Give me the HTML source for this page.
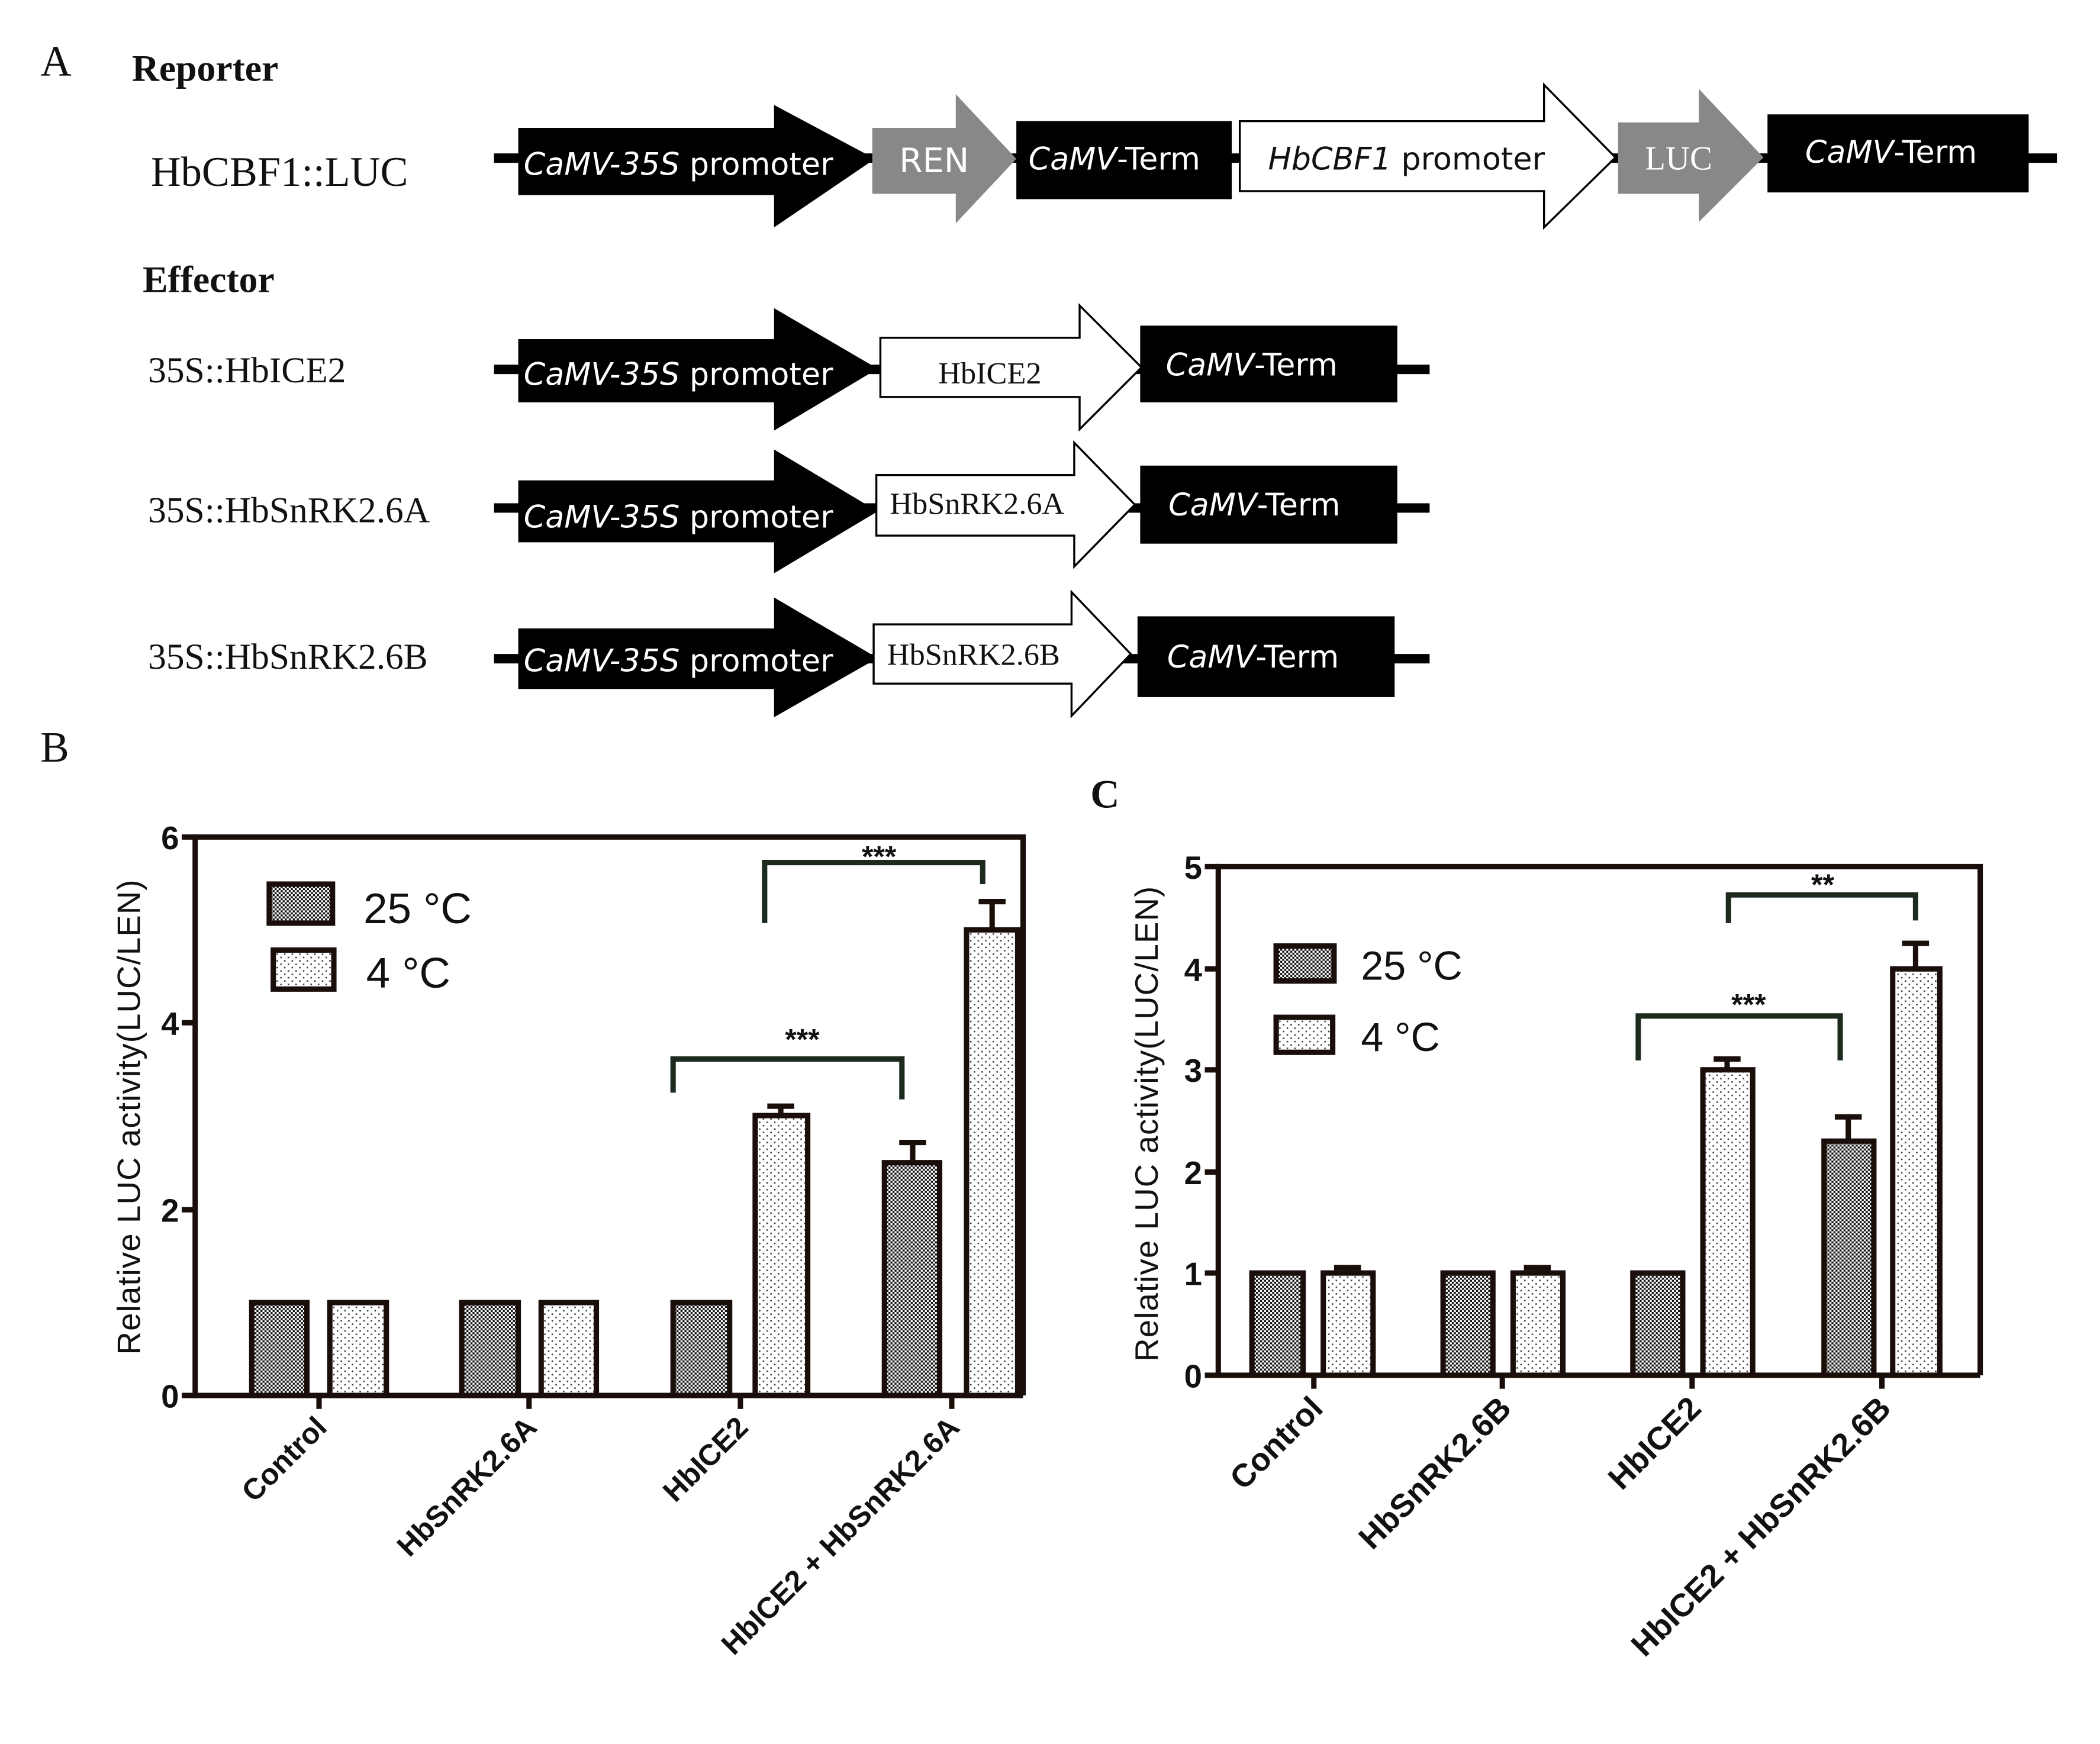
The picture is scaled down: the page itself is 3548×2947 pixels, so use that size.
<!DOCTYPE html>
<html><head><meta charset="utf-8"><style>html,body{margin:0;padding:0;background:#fff}svg{display:block}</style></head>
<body>
<svg xmlns="http://www.w3.org/2000/svg" width="3548" height="2947" viewBox="0 0 1560 1296" preserveAspectRatio="none">
<defs>
<pattern id="chk" width="3" height="3" patternUnits="userSpaceOnUse">
<rect width="3" height="3" fill="#fff"/><rect width="1.5" height="1.5" fill="#111"/><rect x="1.5" y="1.5" width="1.5" height="1.5" fill="#111"/>
</pattern>
<pattern id="dot" width="5.6" height="5" patternUnits="userSpaceOnUse">
<rect width="5.6" height="5" fill="#fff"/><rect x="1" y="1" width="1.1" height="1.1" fill="#333"/><rect x="3.8" y="3.5" width="1.1" height="1.1" fill="#333"/>
</pattern>
</defs>
<g font-family="Liberation Serif, serif" fill="#111">
<text x="30" y="56" font-size="32">A</text>
<text x="98" y="60" font-size="28" font-weight="bold">Reporter</text>
<text x="112" y="138" font-size="31">HbCBF1::LUC</text>
<text x="106" y="217" font-size="28" font-weight="bold">Effector</text>
<text x="110" y="284" font-size="27">35S::HbICE2</text>
<text x="110" y="388" font-size="27">35S::HbSnRK2.6A</text>
<text x="110" y="497" font-size="27">35S::HbSnRK2.6B</text>
<text x="30" y="566" font-size="32">B</text>
<text x="810" y="600" font-size="30" font-weight="bold">C</text>
</g>
<!-- Reporter row -->
<rect x="367" y="114" width="1161" height="7" fill="#000"/>
<polygon points="385,95 575,95 575,78 650,118 575,169 575,145 385,145" fill="#000"/>
<polygon points="648,95 710,95 710,70 755,118 710,166 710,144 648,144" fill="#888"/>
<rect x="755" y="90" width="160" height="58" fill="#000"/>
<polygon points="921,90 1147,90 1147,63 1200,117 1147,169 1147,142 921,142" fill="#fff" stroke="#000" stroke-width="1.5"/>
<polygon points="1202,91 1262,91 1262,66 1310,117 1262,165 1262,144 1202,144" fill="#888"/>
<rect x="1313" y="85" width="194" height="58" fill="#000"/>
<g font-family="DejaVu Sans, Liberation Sans, sans-serif" font-size="23">
<text x="389" y="130" fill="#fff"><tspan font-style="italic">CaMV-35S</tspan> promoter</text>
<text x="668" y="128" fill="#fff" font-size="25">REN</text>
<text x="764" y="126" fill="#fff"><tspan font-style="italic">CaMV</tspan>-Term</text>
<text x="942" y="126" fill="#111"><tspan font-style="italic">HbCBF1</tspan> promoter</text>
<text x="1222" y="126" fill="#fff" font-family="Liberation Serif, serif" font-size="25">LUC</text>
<text x="1341" y="121" fill="#fff"><tspan font-style="italic">CaMV</tspan>-Term</text>
</g>
<!-- Effector rows -->
<g>
<rect x="367" y="271" width="695" height="7" fill="#000"/>
<polygon points="385,252 575,252 575,229 652,274 575,320 575,299 385,299" fill="#000"/>
<polygon points="654,251 802,251 802,227 848,273 802,319 802,295 654,295" fill="#fff" stroke="#000" stroke-width="1.5"/>
<rect x="847" y="242" width="191" height="57" fill="#000"/>
<rect x="367" y="374" width="695" height="7" fill="#000"/>
<polygon points="385,357 575,357 575,334 652,380 575,426 575,403 385,403" fill="#000"/>
<polygon points="651,353 798,353 798,329 843,375 798,421 798,398 651,398" fill="#fff" stroke="#000" stroke-width="1.5"/>
<rect x="847" y="346" width="191" height="58" fill="#000"/>
<rect x="367" y="486" width="695" height="7" fill="#000"/>
<polygon points="385,467 575,467 575,444 652,489 575,533 575,512 385,512" fill="#000"/>
<polygon points="649,464 796,464 796,440 840,486 796,532 796,508 649,508" fill="#fff" stroke="#000" stroke-width="1.5"/>
<rect x="845" y="458" width="191" height="60" fill="#000"/>
</g>
<g font-family="DejaVu Sans, Liberation Sans, sans-serif" font-size="23" fill="#fff">
<text x="389" y="286"><tspan font-style="italic">CaMV-35S</tspan> promoter</text>
<text x="866" y="279"><tspan font-style="italic">CaMV</tspan>-Term</text>
<text x="389" y="392"><tspan font-style="italic">CaMV-35S</tspan> promoter</text>
<text x="868" y="383"><tspan font-style="italic">CaMV</tspan>-Term</text>
<text x="389" y="499"><tspan font-style="italic">CaMV-35S</tspan> promoter</text>
<text x="867" y="496"><tspan font-style="italic">CaMV</tspan>-Term</text>
</g>
<g font-family="Liberation Serif, serif" font-size="23" fill="#111">
<text x="697" y="285">HbICE2</text>
<text x="661" y="382">HbSnRK2.6A</text>
<text x="659" y="494">HbSnRK2.6B</text>
</g>

<!-- Panel B -->
<g stroke="#1a0e0a" stroke-width="4" fill="none">
<polyline points="145,622 760,622 760,1037"/>
<line x1="145" y1="620" x2="145" y2="1039"/>
<line x1="143" y1="1037" x2="760" y2="1037"/>
<line x1="135" y1="622" x2="145" y2="622"/><line x1="135" y1="760" x2="145" y2="760"/><line x1="135" y1="899" x2="145" y2="899"/><line x1="135" y1="1037" x2="145" y2="1037"/>
<line x1="237" y1="1037" x2="237" y2="1047"/><line x1="393" y1="1037" x2="393" y2="1047"/><line x1="550" y1="1037" x2="550" y2="1047"/><line x1="707" y1="1037" x2="707" y2="1047"/>
</g>
<g font-family="Liberation Sans, sans-serif" font-weight="bold" font-size="24" fill="#111" text-anchor="end">
<text x="133" y="631">6</text><text x="133" y="769">4</text><text x="133" y="908">2</text><text x="133" y="1046">0</text>
</g>
<text transform="translate(104,830) rotate(-90)" text-anchor="middle" font-family="Liberation Sans, sans-serif" font-size="24" fill="#111" letter-spacing="0.5">Relative LUC activity(LUC/LEN)</text>
<g stroke="#1a0e0a" stroke-width="4">
<rect x="187" y="968" width="41" height="69" fill="url(#chk)"/>
<rect x="245" y="968" width="42" height="69" fill="url(#dot)"/>
<rect x="343" y="968" width="42" height="69" fill="url(#chk)"/>
<rect x="402" y="968" width="41" height="69" fill="url(#dot)"/>
<rect x="500" y="968" width="42" height="69" fill="url(#chk)"/>
<rect x="561" y="829" width="39" height="208" fill="url(#dot)"/>
<rect x="657" y="864" width="41" height="173" fill="url(#chk)"/>
<rect x="718" y="691" width="38" height="346" fill="url(#dot)"/>
<line x1="580" y1="829" x2="580" y2="822"/><line x1="570" y1="822" x2="590" y2="822"/>
<line x1="678" y1="864" x2="678" y2="849"/><line x1="668" y1="849" x2="688" y2="849"/>
<line x1="737" y1="691" x2="737" y2="670"/><line x1="727" y1="670" x2="747" y2="670"/>
</g>
<g stroke="#1d2b1f" stroke-width="4" fill="none">
<polyline points="500,812 500,787 670,787 670,817"/>
<polyline points="568,686 568,641 730,641 730,657"/>
</g>
<g font-family="Liberation Sans, sans-serif" font-weight="bold" font-size="22" fill="#111" text-anchor="middle">
<text x="596" y="780">***</text><text x="653" y="644">***</text>
</g>
<g stroke="#1a0e0a" stroke-width="4">
<rect x="200" y="657" width="47" height="29" fill="url(#chk)"/>
<rect x="203" y="706" width="45" height="29" fill="url(#dot)"/>
</g>
<g font-family="Liberation Sans, sans-serif" font-size="32" fill="#111">
<text x="270" y="686">25 °C</text><text x="272" y="734">4 °C</text>
</g>
<g font-family="Liberation Sans, sans-serif" font-weight="bold" font-size="22" fill="#111" text-anchor="end">
<text transform="translate(244,1062) rotate(-45)">Control</text>
<text transform="translate(400,1062) rotate(-45)">HbSnRK2.6A</text>
<text transform="translate(557,1062) rotate(-45)">HbICE2</text>
<text transform="translate(714,1062) rotate(-45)">HbICE2 + HbSnRK2.6A</text>
</g>

<!-- Panel C -->
<g stroke="#1a0e0a" stroke-width="4" fill="none">
<polyline points="905,644 1471,644 1471,1022"/>
<line x1="905" y1="642" x2="905" y2="1024"/>
<line x1="903" y1="1022" x2="1471" y2="1022"/>
<line x1="895" y1="644" x2="905" y2="644"/><line x1="895" y1="720" x2="905" y2="720"/><line x1="895" y1="795" x2="905" y2="795"/><line x1="895" y1="871" x2="905" y2="871"/><line x1="895" y1="946" x2="905" y2="946"/><line x1="895" y1="1022" x2="905" y2="1022"/>
<line x1="976" y1="1022" x2="976" y2="1032"/><line x1="1116" y1="1022" x2="1116" y2="1032"/><line x1="1257" y1="1022" x2="1257" y2="1032"/><line x1="1398" y1="1022" x2="1398" y2="1032"/>
</g>
<g font-family="Liberation Sans, sans-serif" font-weight="bold" font-size="24" fill="#111" text-anchor="end">
<text x="893" y="653">5</text><text x="893" y="729">4</text><text x="893" y="804">3</text><text x="893" y="880">2</text><text x="893" y="955">1</text><text x="893" y="1031">0</text>
</g>
<text transform="translate(860,835) rotate(-90)" text-anchor="middle" font-family="Liberation Sans, sans-serif" font-size="24" fill="#111" letter-spacing="0.5">Relative LUC activity(LUC/LEN)</text>
<g stroke="#1a0e0a" stroke-width="4">
<rect x="930" y="946" width="38" height="76" fill="url(#chk)"/>
<rect x="983" y="946" width="37" height="76" fill="url(#dot)"/>
<rect x="1072" y="946" width="37" height="76" fill="url(#chk)"/>
<rect x="1124" y="946" width="37" height="76" fill="url(#dot)"/>
<rect x="1213" y="946" width="37" height="76" fill="url(#chk)"/>
<rect x="1265" y="795" width="37" height="227" fill="url(#dot)"/>
<rect x="1355" y="848" width="37" height="174" fill="url(#chk)"/>
<rect x="1406" y="720" width="35" height="302" fill="url(#dot)"/>
<line x1="1001" y1="946" x2="1001" y2="942"/><line x1="991" y1="942" x2="1011" y2="942"/>
<line x1="1142" y1="946" x2="1142" y2="942"/><line x1="1132" y1="942" x2="1152" y2="942"/>
<line x1="1283" y1="795" x2="1283" y2="787"/><line x1="1273" y1="787" x2="1293" y2="787"/>
<line x1="1373" y1="848" x2="1373" y2="830"/><line x1="1363" y1="830" x2="1383" y2="830"/>
<line x1="1423" y1="720" x2="1423" y2="701"/><line x1="1413" y1="701" x2="1433" y2="701"/>
</g>
<g stroke="#1d2b1f" stroke-width="4" fill="none">
<polyline points="1217,788 1217,755 1367,755 1367,788"/>
<polyline points="1284,686 1284,665 1423,665 1423,684"/>
</g>
<g font-family="Liberation Sans, sans-serif" font-weight="bold" font-size="22" fill="#111" text-anchor="middle">
<text x="1299" y="754">***</text><text x="1354" y="665">**</text>
</g>
<g stroke="#1a0e0a" stroke-width="4">
<rect x="948" y="703" width="43" height="26" fill="url(#chk)"/>
<rect x="948" y="756" width="42" height="26" fill="url(#dot)"/>
</g>
<g font-family="Liberation Sans, sans-serif" font-size="30" fill="#111">
<text x="1011" y="728">25 °C</text><text x="1011" y="781">4 °C</text>
</g>
<g font-family="Liberation Sans, sans-serif" font-weight="bold" font-size="24" fill="#111" text-anchor="end">
<text transform="translate(984,1048) rotate(-45)">Control</text>
<text transform="translate(1124,1048) rotate(-45)">HbSnRK2.6B</text>
<text transform="translate(1265,1048) rotate(-45)">HbICE2</text>
<text transform="translate(1406,1048) rotate(-45)">HbICE2 + HbSnRK2.6B</text>
</g>
</svg>
</body></html>
